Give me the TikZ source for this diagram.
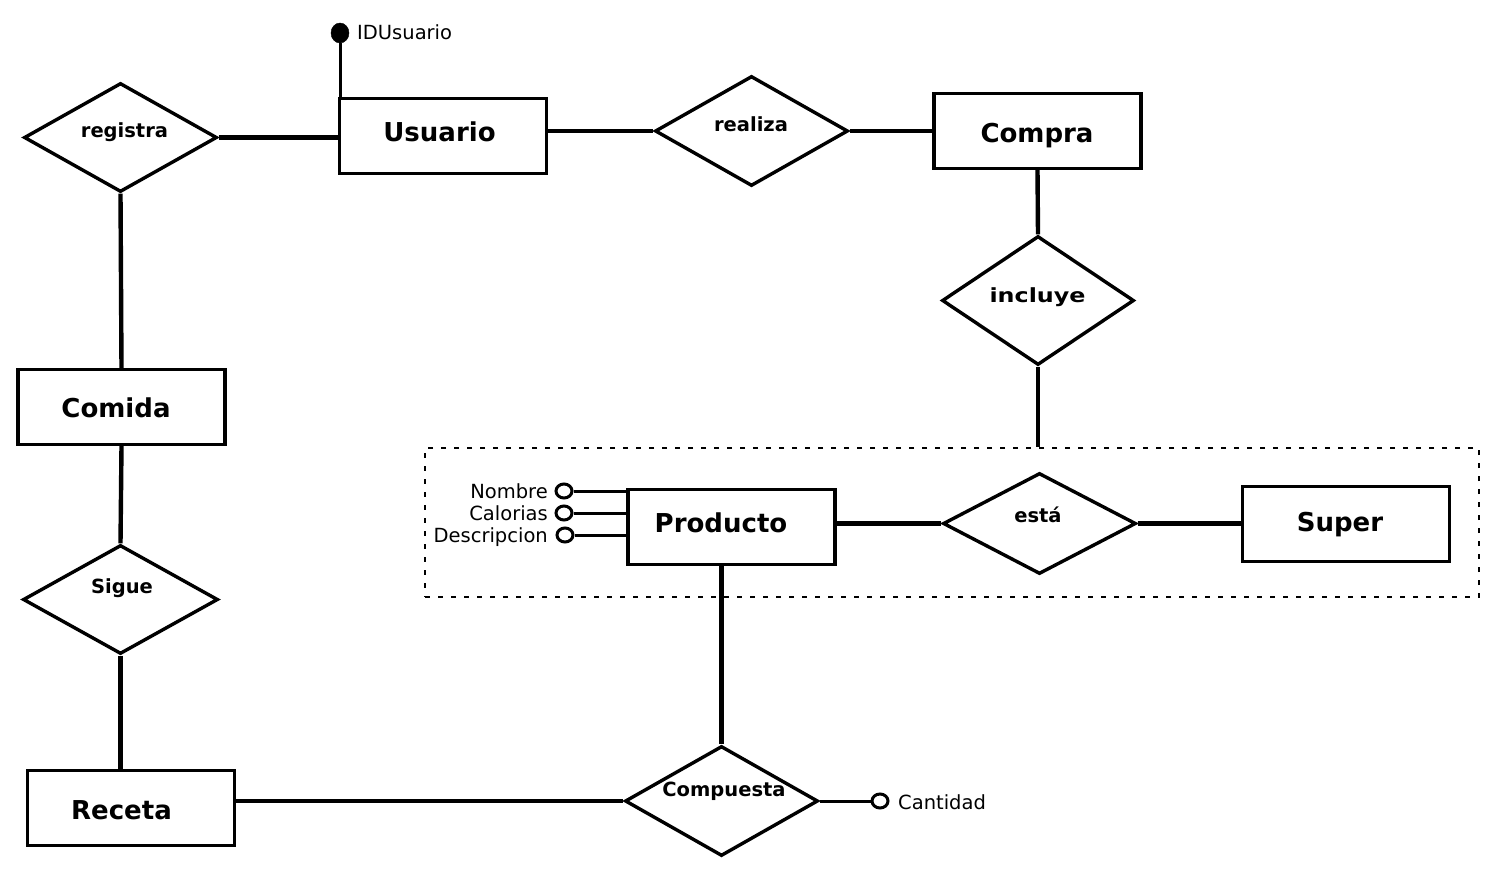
\documentclass[tikz,border=0pt]{standalone}
\usepackage{fontspec}
\setmainfont{DejaVu Sans}
\usetikzlibrary{shapes.geometric}
\begin{document}
\begin{tikzpicture}[x=1pt,y=-1pt,
  entity/.style={draw, rectangle, line width=3.4pt, minimum width=207pt, minimum height=75pt, inner sep=0pt},
  rel/.style={draw, diamond, line width=3.4pt, inner sep=0pt},
  etext/.style={anchor=base, inner sep=0pt, font=\fontsize{26}{30}\selectfont\bfseries},
  rtext/.style={anchor=base, inner sep=0pt, font=\fontsize{19.5}{23}\selectfont\bfseries},
  atext/.style={inner sep=0pt, font=\fontsize{19.5}{23}\selectfont},
  conn/.style={line width=4.4pt},
  aconn/.style={line width=3pt},
  attr/.style={draw, ellipse, line width=3pt, fill=white, minimum width=16pt, minimum height=14pt, inner sep=0pt},
  key/.style={draw, ellipse, fill=black, minimum width=18pt, minimum height=20pt, inner sep=0pt}
]
\useasboundingbox (0,0) rectangle (1508,875);

% group box
\node[draw, dash pattern=on 5pt off 8pt, line width=2.4pt, minimum width=1054pt, minimum height=149pt, inner sep=0pt] (grp) at (952,522.5) {};

% entities
\node[entity] (usuario) at (443,136) {};
\node[entity] (compra) at (1037.5,131) {};
\node[entity] (comida) at (121.5,407) {};
\node[entity] (receta) at (131,808) {};
\node[entity] (producto) at (731.5,527) {};
\node[entity] (super) at (1346,524) {};

\node[etext] (usuarioT) at (439.5,141) {Usuario};
\node[etext] (compraT) at (1037,142) {Compra};
\node[etext] (comidaT) at (116,417) {Comida};
\node[etext] (recetaT) at (121.5,819) {Receta};
\node[etext] (productoT) at (721,532) {Producto};
\node[etext] (superT) at (1340,531) {Super};

% relationships
\node[rel, minimum width=193pt, minimum height=109pt] (registra) at (120.5,137.5) {};
\node[rel, minimum width=193pt, minimum height=110pt] (realiza) at (751.5,131) {};
\node[rel, minimum width=192pt, minimum height=129pt] (incluye) at (1038,300.5) {};
\node[rel, minimum width=193pt, minimum height=101pt] (esta) at (1039.5,523.5) {};
\node[rel, minimum width=195pt, minimum height=109pt] (sigue) at (120.5,599.5) {};
\node[rel, minimum width=193pt, minimum height=110pt] (compuesta) at (721.5,801) {};

\node[rtext] (registraT) at (124.5,137) {registra};
\node[rtext] (realizaT) at (751,131) {realiza};
\node[rtext] (incluyeT) at (1037.5,302) {\scalebox{1.22}[1]{incluye}};
\node[rtext] (estaT) at (1038,522) {está};
\node[rtext] (sigueT) at (122,593) {Sigue};
\node[rtext] (compuestaT) at (724,796) {Compuesta};

% connectors
\draw[conn] (registra.east) -- (registra.east -| usuario.west);
\draw[conn] (registra.south) -- (comida.north);
\draw[conn] (comida.south) -- (sigue.north);
\draw[conn] (sigue.south) -- (sigue.south |- receta.north);
\draw[conn] (compuesta.west -| receta.east) -- (compuesta.west);
\draw[conn] (compuesta.north |- producto.south) -- (compuesta.north);
\draw[conn] (realiza.west -| usuario.east) -- (realiza.west);
\draw[conn] (realiza.east) -- (realiza.east -| compra.west);
\draw[conn] (compra.south) -- (incluye.north);
\draw[conn] (incluye.south) -- (incluye.south |- grp.north);
\draw[conn] (esta.west -| producto.east) -- (esta.west);
\draw[conn] (esta.east) -- (esta.east -| super.west);

% key attribute
\node[key] (iddot) at (340,33) {};
\draw[aconn] (iddot) -- (iddot |- usuario.north);
\node[atext, anchor=base west] (idT) at (357,40) {IDUsuario};

% attributes of Producto
\node[attr] (nombre) at (564,491) {};
\node[attr] (calorias) at (564,513) {};
\node[attr] (descripcion) at (565,535) {};
\draw[aconn] (nombre) -- (nombre -| producto.west);
\draw[aconn] (calorias) -- (calorias -| producto.west);
\draw[aconn] (descripcion) -- (descripcion -| producto.west);
\node[atext, anchor=base east] (nombreT) at (548,498) {Nombre};
\node[atext, anchor=base east] (caloriasT) at (548,520) {Calorias};
\node[atext, anchor=base east] (descripcionT) at (548,542) {Descripcion};

% attribute of Compuesta
\node[attr] (cantidad) at (880,801) {};
\draw[aconn] (compuesta.east) -- (cantidad);
\node[atext, anchor=base west] (cantidadT) at (898,809) {Cantidad};
\end{tikzpicture}
\end{document}
